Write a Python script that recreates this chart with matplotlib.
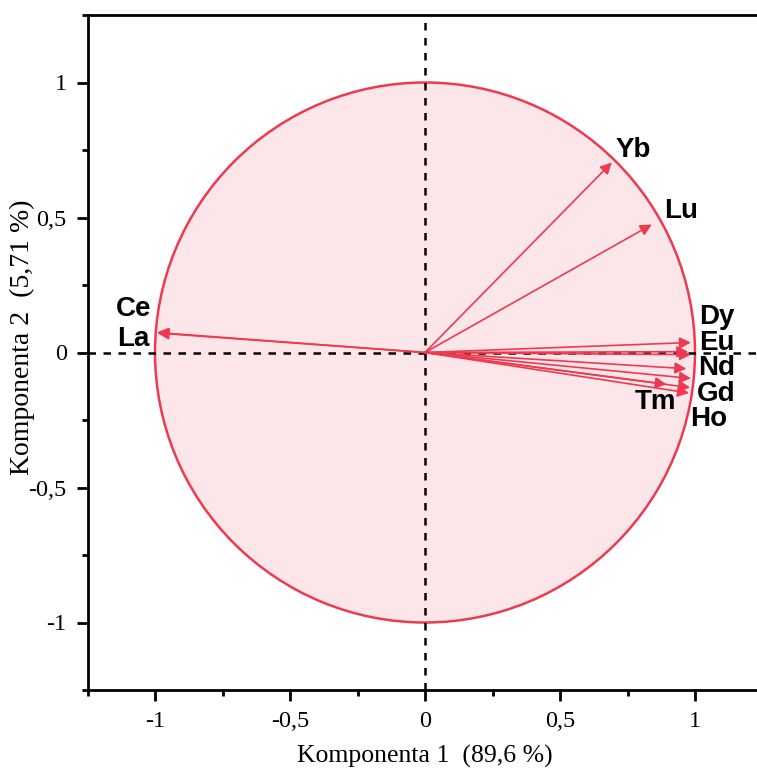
import matplotlib
matplotlib.use("Agg")
import matplotlib.pyplot as plt
from matplotlib.patches import Circle
from matplotlib.ticker import MultipleLocator, FuncFormatter

# PCA loadings of the rare earth elements on the first two components
elements = ["Ce", "La", "Yb", "Lu", "Dy", "Eu", "", "Nd", "", "Tm", "Gd", "Ho"]
pc1 = [-0.993, -0.990, 0.692, 0.840, 0.985, 0.975, 0.985, 0.968, 0.985, 0.895, 0.982, 0.978]
pc2 = [0.074, 0.072, 0.704, 0.474, 0.037, 0.003, -0.008, -0.060, -0.096, -0.118, -0.130, -0.150]

# label anchor points (data units)
label_x = [-1.08, -1.08, 0.77, 0.95, 1.08, 1.08, None, 1.08, None, 0.855, 1.08, 1.05]
label_y = [0.16, 0.05, 0.75, 0.525, 0.13, 0.037, None, -0.058, None, -0.185, -0.152, -0.248]

x_label = "Komponenta 1  (89,6 %)"
y_label = "Komponenta 2  (5,71 %)"

red = "#ee3a50"
fill = "#fde6e9"

fig = plt.figure(figsize=(7.57, 7.75), dpi=100)
ax = fig.add_axes([87.5 / 757, 85 / 775, 675 / 757, 675 / 775])
ax.set_xlim(-1.25, 1.25)
ax.set_ylim(-1.25, 1.25)

ax.add_patch(Circle((0, 0), 1.0, facecolor=fill, edgecolor=red, lw=1.8, zorder=1))

ax.axhline(0, color="black", lw=1.8, ls=(0, (3, 3)), zorder=2)
ax.axvline(0, color="black", lw=1.8, ls=(0, (3, 3)), zorder=2)

for x, y in zip(pc1, pc2):
    ax.annotate("", xy=(x, y), xytext=(0, 0),
                arrowprops=dict(arrowstyle="-|>", color=red, lw=1.2,
                                mutation_scale=17, shrinkA=0, shrinkB=0),
                zorder=3)

for name, lx, ly in zip(elements, label_x, label_y):
    if name:
        ax.text(lx, ly, name, fontsize=20, fontweight="bold",
                family="Liberation Sans", ha="center", va="center", zorder=4)

ax.spines["right"].set_visible(False)
for s in ("left", "bottom", "top"):
    ax.spines[s].set_linewidth(2)

ax.xaxis.set_major_locator(MultipleLocator(0.5))
ax.xaxis.set_minor_locator(MultipleLocator(0.25))
ax.yaxis.set_major_locator(MultipleLocator(0.5))
ax.yaxis.set_minor_locator(MultipleLocator(0.25))

fmt = FuncFormatter(lambda v, p: ("%g" % v).replace(".", ",").replace("\u2212", "-"))
ax.xaxis.set_major_formatter(fmt)
ax.yaxis.set_major_formatter(fmt)

ax.tick_params(which="major", direction="out", length=8, width=2,
               labelsize=17.5, pad=7, top=False, right=False)
ax.tick_params(which="minor", direction="out", length=4, width=2,
               top=False, right=False)
for lab in ax.get_xticklabels() + ax.get_yticklabels():
    lab.set_family("Liberation Serif")

ax.set_xlabel(x_label, fontsize=18.5, family="Liberation Serif")
ax.set_ylabel(y_label, fontsize=20, family="Liberation Serif")
ax.xaxis.set_label_coords(0.5, -0.099)
ax.yaxis.set_label_coords(-0.097, 0.522)
ax.xaxis.label.set_va("center")
ax.yaxis.label.set_va("center")

fig.savefig("out.png", dpi=100)
